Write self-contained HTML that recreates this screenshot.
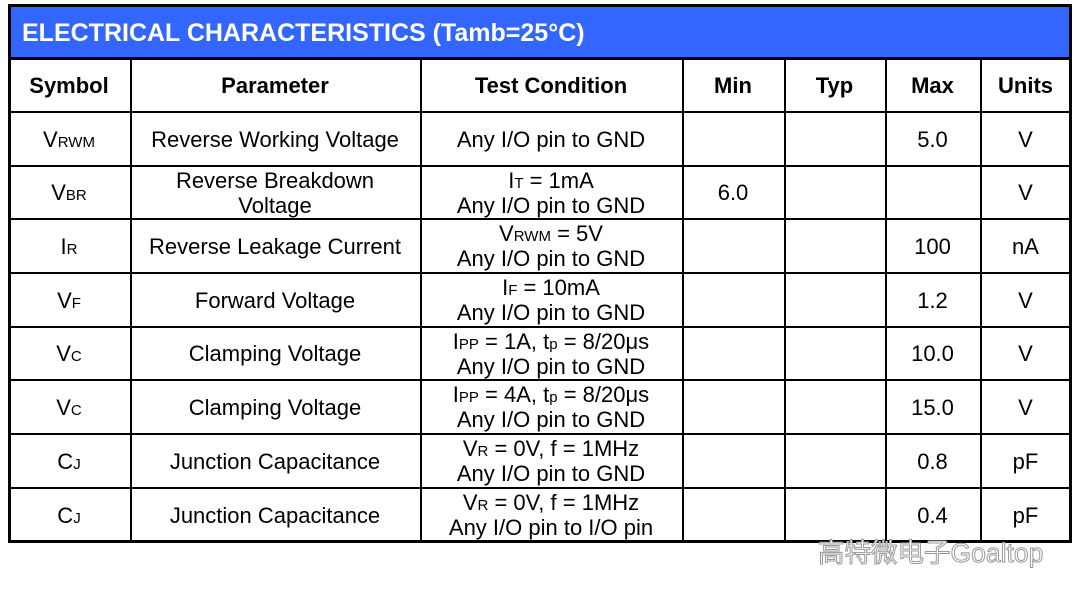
<!DOCTYPE html><html><head><meta charset="utf-8"><style>
body{margin:0;width:1080px;height:597px;background:#fff;position:relative;overflow:hidden;font-family:"Liberation Sans",Arial,sans-serif;color:#000}
.b{position:absolute;background:#000}
.t{position:absolute;display:flex;align-items:center;justify-content:center;text-align:center;font-size:22px;line-height:25px}
.t span{line-height:25px}
sub{font-size:15px;vertical-align:baseline;line-height:0}
</style></head><body>
<div style="position:absolute;left:8px;top:4px;width:1064px;height:539px;border:3px solid #000;box-sizing:border-box"></div>
<div style="position:absolute;left:11px;top:7px;width:1058px;height:50px;background:#3366ff"></div>
<div style="position:absolute;left:22px;top:19px;color:#fff;font-weight:bold;font-size:25px;white-space:nowrap">ELECTRICAL CHARACTERISTICS (Tamb=25°C)</div>
<div class="b" style="left:8px;top:57px;width:1064px;height:3px"></div>
<div id="g"></div>
<div style="position:absolute;left:818px;top:531px;font-size:26.5px;color:#fff;-webkit-text-stroke:1px #999;white-space:nowrap;font-family:'Liberation Sans','Noto Sans CJK SC',sans-serif">高特微电子Goaltop</div>
<script>
var xs=[8,130,420,682,784,885,980,1071],ys=[58,112,166,219,273,327,380,434,488,542],g='';
for(var i=1;i<7;i++)g+='<div class="b" style="left:'+xs[i]+'px;top:58px;width:2px;height:484px"></div>';
for(var j=1;j<9;j++)g+='<div class="b" style="left:8px;top:'+(ys[j]-1)+'px;width:1064px;height:2px"></div>';
var rows=[
['<b>Symbol</b>','<b>Parameter</b>','<b>Test Condition</b>','<b>Min</b>','<b>Typ</b>','<b>Max</b>','<b>Units</b>'],
['V<sub>RWM</sub>','Reverse Working Voltage','Any I/O pin to GND','','','5.0','V'],
['V<sub>BR</sub>','Reverse Breakdown<br>Voltage','I<sub>T</sub> = 1mA<br>Any I/O pin to GND','6.0','','','V'],
['I<sub>R</sub>','Reverse Leakage Current','V<sub>RWM</sub> = 5V<br>Any I/O pin to GND','','','100','nA'],
['V<sub>F</sub>','Forward Voltage','I<sub>F</sub> = 10mA<br>Any I/O pin to GND','','','1.2','V'],
['V<sub>C</sub>','Clamping Voltage','I<sub>PP</sub> = 1A, t<sub>p</sub> = 8/20μs<br>Any I/O pin to GND','','','10.0','V'],
['V<sub>C</sub>','Clamping Voltage','I<sub>PP</sub> = 4A, t<sub>p</sub> = 8/20μs<br>Any I/O pin to GND','','','15.0','V'],
['C<sub>J</sub>','Junction Capacitance','V<sub>R</sub> = 0V, f = 1MHz<br>Any I/O pin to GND','','','0.8','pF'],
['C<sub>J</sub>','Junction Capacitance','V<sub>R</sub> = 0V, f = 1MHz<br>Any I/O pin to I/O pin','','','0.4','pF']];
for(var r=0;r<9;r++)for(var c=0;c<7;c++)g+='<div class="t" style="left:'+xs[c]+'px;top:'+ys[r]+'px;width:'+(xs[c+1]-xs[c])+'px;height:'+(ys[r+1]-ys[r])+'px"><span>'+rows[r][c]+'</span></div>';
document.getElementById('g').innerHTML=g;
</script>
</body></html>
